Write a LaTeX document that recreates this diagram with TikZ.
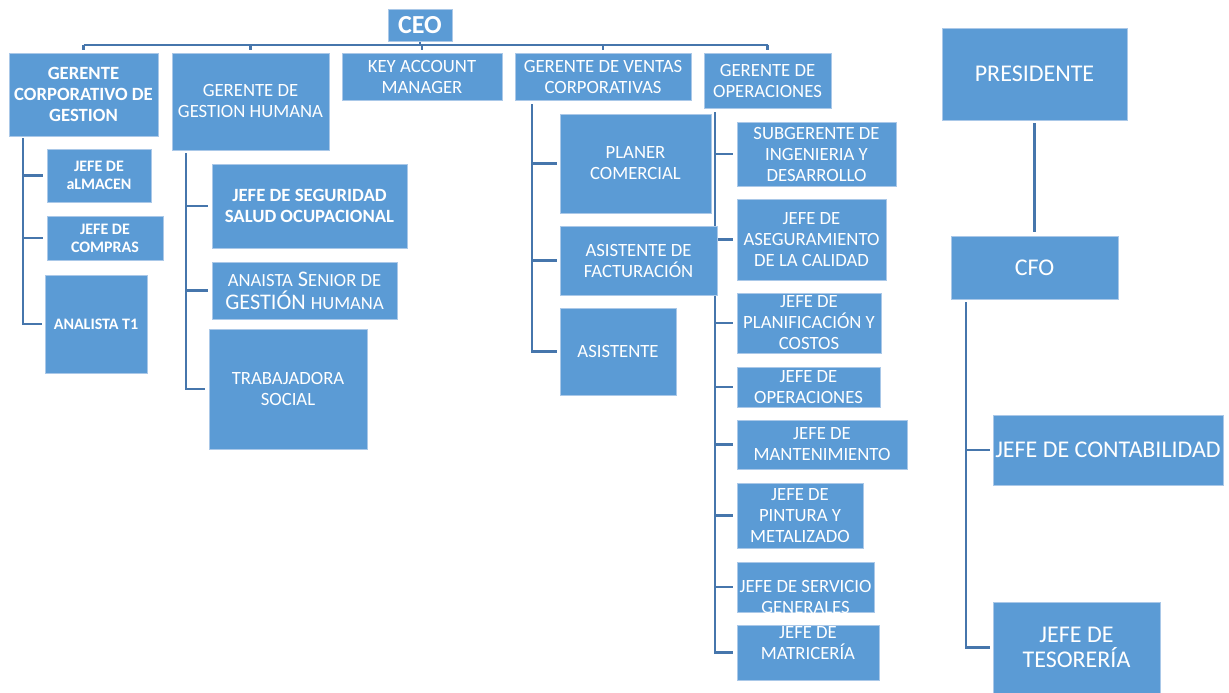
\documentclass[tikz,border=0pt]{standalone}
\usepackage{fontspec}
\setmainfont{Carlito}
\usetikzlibrary{backgrounds,calc}
\definecolor{boxblue}{RGB}{91,155,213}
\definecolor{boxedge}{RGB}{170,200,232}
\definecolor{linkblue}{RGB}{70,118,172}
\newcommand{\reg}{\fontsize{18.7}{21}\selectfont}
\newcommand{\bbig}{\fontsize{18.7}{20.8}\selectfont\bfseries}
\newcommand{\bsmall}{\fontsize{16}{18}\selectfont\bfseries}
\newcommand{\rbig}{\fontsize{24}{25}\selectfont}
\newcommand{\fsc}[1]{{\fontsize{18.6}{23}\selectfont #1}}
\tikzset{
 box/.style={fill=boxblue, draw=boxedge, line width=0.7pt, inner sep=0pt, align=center, text=white, font=\reg},
 txt/.style={inner sep=0pt, align=center, text=white},
 conn/.style={draw=linkblue, line width=2.6pt},
 busline/.style={draw=linkblue, line width=2.2pt},
}
\begin{document}
\begin{tikzpicture}[x=1pt,y=-1pt]
\useasboundingbox (0,0) rectangle (1229,693);
% top level
\node[box, font=\fontsize{26}{28}\selectfont\bfseries, minimum width=64pt, minimum height=32pt] (ceo) at (420,25) {CEO};
\node[box, font=\bbig, minimum width=149pt, minimum height=83pt] (gcg) at (83.5,94.5) {GERENTE\\CORPORATIVO DE\\GESTION};
\node[box, minimum width=157pt, minimum height=97pt] (ggh) at (250.5,101.5) {GERENTE DE\\GESTION HUMANA};
\node[box, minimum width=160pt, minimum height=47pt] (kam) at (422,76.5) {KEY ACCOUNT\\MANAGER};
\node[box, minimum width=176pt, minimum height=47pt] (gvc) at (603,76.5) {GERENTE DE VENTAS\\CORPORATIVAS};
\node[box, minimum width=127pt, minimum height=55pt] (gop) at (767.5,80.5) {GERENTE DE\\OPERACIONES};
% gestion children
\node[box, font=\bsmall, minimum width=104pt, minimum height=53pt] (jalm) at (99,175.5) {JEFE DE\\aLMACEN};
\node[box, font=\bsmall, minimum width=116pt, minimum height=44pt] (jcom) at (105,238) {JEFE DE\\COMPRAS};
\node[box, font=\bsmall, minimum width=102pt, minimum height=98pt] (ana) at (96,324) {ANALISTA T1};
% gestion humana children
\node[box, font=\bbig, minimum width=195pt, minimum height=84pt] (jseg) at (309.5,206) {JEFE DE SEGURIDAD\\SALUD OCUPACIONAL};
\node[box, font=\fontsize{22.3}{23}\selectfont, minimum width=185pt, minimum height=57pt] (anai) at (304.5,290.5) {\fsc{ANAISTA} S\fsc{ENIOR DE}\\GESTIÓN \fsc{HUMANA}};
\node[box, minimum width=158pt, minimum height=120pt] (trab) at (288,389) {TRABAJADORA\\SOCIAL};
% ventas children
\node[box, minimum width=151pt, minimum height=99pt] (plan) at (635.5,163.5) {PLANER\\COMERCIAL};
\node[box, minimum width=157pt, minimum height=69pt] (fact) at (638.5,260.5) {ASISTENTE DE\\FACTURACIÓN};
\node[box, minimum width=116pt, minimum height=87pt] (asis) at (618,351.5) {ASISTENTE};
% operaciones children
\node[box, minimum width=159pt, minimum height=64pt] (sub) at (816.5,154) {SUBGERENTE DE\\INGENIERIA Y\\DESARROLLO};
\node[box, minimum width=149pt, minimum height=81pt] (jase) at (811.5,239.5) {JEFE DE\\ASEGURAMIENTO\\DE LA CALIDAD};
\node[box, minimum width=144pt, minimum height=60pt] (jpla) at (809,323) {JEFE DE\\PLANIFICACIÓN Y\\COSTOS};
\node[box, minimum width=143pt, minimum height=40pt] (jope) at (808.5,387) {JEFE DE\\OPERACIONES};
\node[box, minimum width=170pt, minimum height=49pt] (jman) at (822,444.5) {JEFE DE\\MANTENIMIENTO};
\node[box, minimum width=126pt, minimum height=65pt] (jpin) at (800,515.5) {JEFE DE\\PINTURA Y\\METALIZADO};
\node[box, minimum width=137pt, minimum height=50pt] (jser) at (805.5,587) {};
\begin{scope}
\clip (jser.south west) rectangle (jser.north east);
\node[txt, font=\reg] (jsert) at (805.5,597) {JEFE DE SERVICIO\\GENERALES};
\end{scope}
\node[box, minimum width=142pt, minimum height=55pt] (jmat) at (808,652.5) {};
\node[txt, font=\reg] (jmatt) at (808,643) {JEFE DE\\MATRICERÍA};
% right side
\node[box, font=\rbig, minimum width=185pt, minimum height=92pt] (pres) at (1034.5,74) {PRESIDENTE};
\node[box, font=\rbig, minimum width=167pt, minimum height=63pt] (cfo) at (1034.5,267.5) {CFO};
\node[box, font=\rbig, minimum width=230pt, minimum height=70pt] (jcon) at (1108,450) {JEFE DE CONTABILIDAD};
\node[box, font=\rbig, minimum width=167pt, minimum height=91pt] (jtes) at (1076.5,647.5) {JEFE DE\\TESORERÍA};
% connectors
\begin{scope}[on background layer]
\fill[white] (0,0) rectangle (1229,693);
\coordinate (bus) at (0,45);
\draw[busline] (gcg.north |- bus) -- (gop.north |- bus);
\foreach \n in {gcg,ggh,kam,gvc,gop} \draw[busline] (\n.north |- bus) -- ([yshift=3pt]\n.north);
\draw[busline] (ceo.south) -- (ceo.south |- bus);
\coordinate (gcgv) at (23,138);
\draw[conn] (gcgv) |- ([xshift=-3pt]ana.west);
\foreach \n in {jalm,jcom} \draw[conn] (gcgv |- \n.west) -- ([xshift=-4pt]\n.west);
\coordinate (gghv) at (186,153);
\draw[conn] (gghv) |- ([xshift=-4pt]trab.west);
\foreach \n in {jseg,anai} \draw[conn] (gghv |- \n.west) -- ([xshift=-4pt]\n.west);
\coordinate (gvcv) at (532,104);
\draw[conn] (gvcv) |- ([xshift=-3pt]asis.west);
\foreach \n in {plan,fact} \draw[conn] (gvcv |- \n.west) -- ([xshift=-3pt]\n.west);
\coordinate (gopv) at (715,112);
\draw[conn] (gopv) |- ([xshift=-4pt]jmat.west);
\foreach \n in {sub,jase,jpla,jope,jman,jpin,jser} \draw[conn] (gopv |- \n.west) -- ([xshift=-4pt]\n.west);
\draw[conn] ([yshift=-3pt]pres.south) -- ([yshift=4pt]cfo.north);
\coordinate (cfov) at (966,302);
\draw[conn] (cfov) |- ([xshift=-3pt]jtes.west);
\draw[conn] (cfov |- jcon.west) -- ([xshift=-3pt]jcon.west);
\end{scope}
\end{tikzpicture}
\end{document}
